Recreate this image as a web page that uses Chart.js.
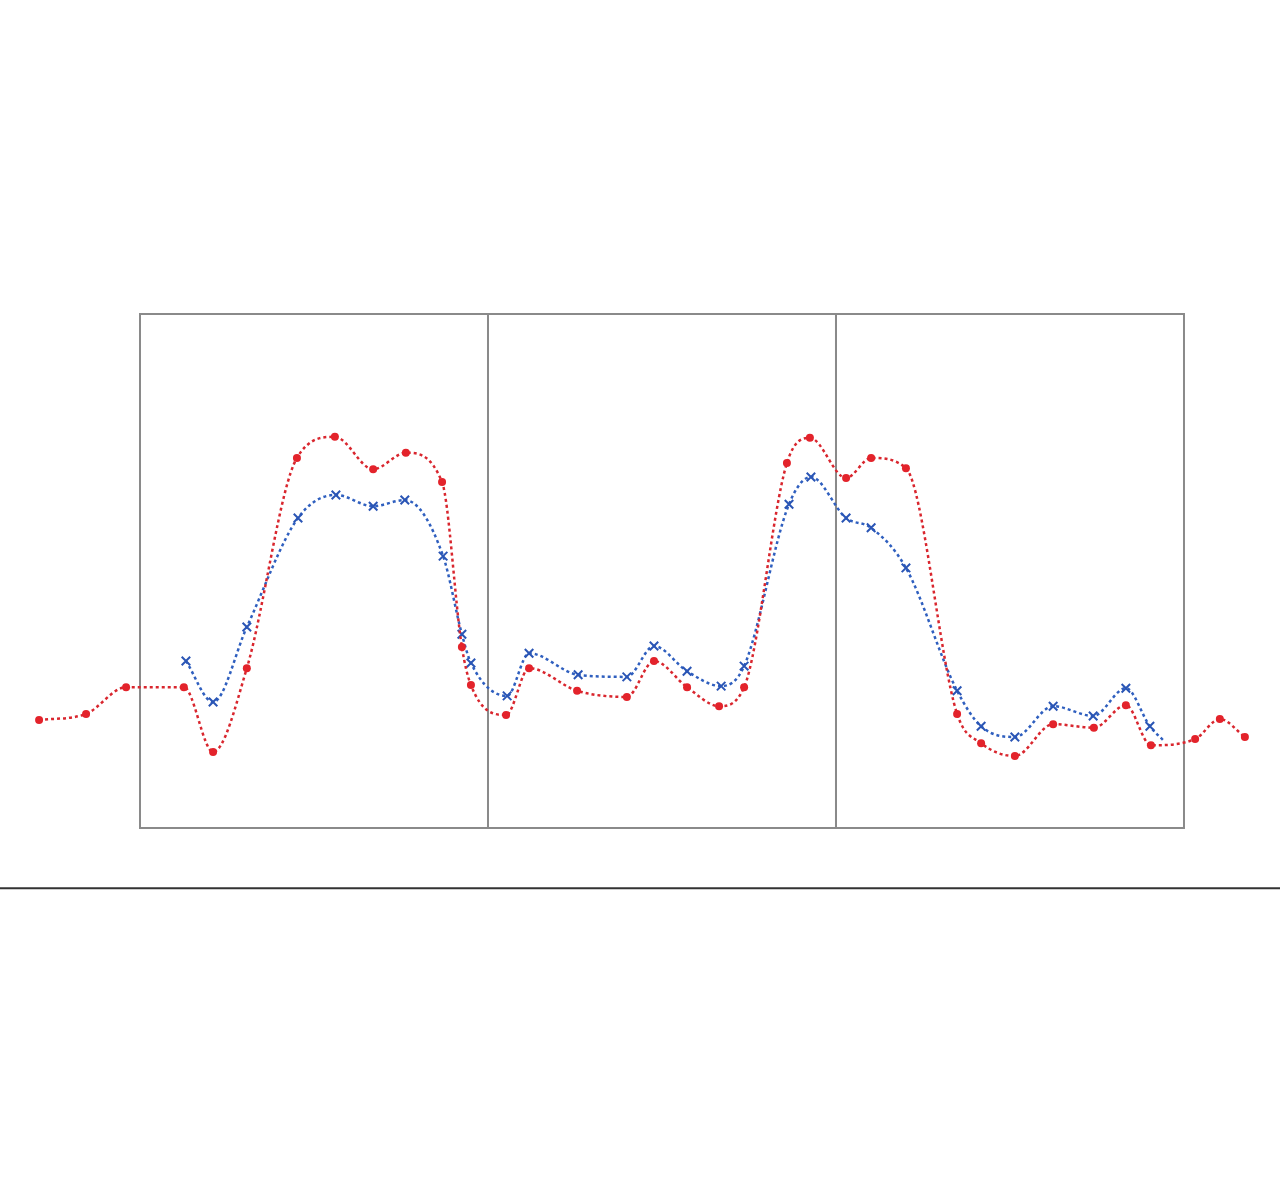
<!DOCTYPE html>
<html lang="en">
<head>
    <meta charset="UTF-8">
    <title>Two dotted series</title>
    <style>
        body { margin: 0; background: #fff; }
    </style>
</head>
<body>
    <canvas id="myChart" width="1280" height="1190"></canvas>
    <script src="https://cdn.jsdelivr.net/npm/chart.js@4.4.0/dist/chart.umd.min.js"></script>
    <script>

        // x in panel units (each box is 1 wide), y in percent of box height
        let redX = [-0.290, -0.155, -0.040, 0.126, 0.210, 0.307, 0.451, 0.560, 0.670, 0.764, 0.868, 0.925, 0.951,
                    1.052, 1.118, 1.256, 1.399, 1.477, 1.572, 1.664, 1.736, 1.859, 1.925,
                    2.029, 2.101, 2.201, 2.348, 2.417, 2.514, 2.624, 2.741, 2.833, 2.905, 3.032, 3.103, 3.175];
        let redY = [21.0, 22.2, 27.4, 27.4, 14.8, 31.1, 72.0, 76.1, 69.8, 73.0, 67.3, 35.2, 27.8,
                    22.0, 31.1, 26.7, 25.5, 32.5, 27.4, 23.7, 27.4, 71.0, 75.9,
                    68.1, 72.0, 70.0, 22.2, 16.5, 14.0, 20.2, 19.5, 23.9, 16.1, 17.3, 21.2, 17.7];

        let blueX = [0.132, 0.210, 0.307, 0.454, 0.563, 0.670, 0.761, 0.871, 0.925, 0.951,
                     1.055, 1.118, 1.259, 1.399, 1.477, 1.572, 1.670, 1.736, 1.865, 1.928,
                     2.029, 2.101, 2.201, 2.348, 2.417, 2.514, 2.624, 2.739, 2.833, 2.902, 2.940];
        let blueY = [32.5, 24.5, 39.1, 60.3, 64.8, 62.6, 63.8, 52.9, 37.7, 32.1,
                     25.7, 34.0, 29.8, 29.4, 35.4, 30.5, 27.6, 31.5, 63.0, 68.3,
                     60.3, 58.4, 50.6, 26.7, 19.8, 17.7, 23.7, 21.8, 27.2, 19.8, 17.1];

        let panels = [0, 1, 2];
        let baseLineY = -11.7;

        var toPoints = (xs, ys) => xs.map((x, i) => ({ x: x, y: ys[i] }));

        // blue line runs on past its last marker
        var blueRadius = blueX.map((x, i) => i === blueX.length - 1 ? 0 : 6);

        const boxPlugin = {
            id: 'boxes',
            beforeDatasetsDraw(chart) {
                const c = chart.ctx;
                const xs = chart.scales.x, ys = chart.scales.y;
                c.save();
                c.strokeStyle = '#8a8a8a';
                c.lineWidth = 2;
                panels.forEach(p => {
                    let x0 = xs.getPixelForValue(p), x1 = xs.getPixelForValue(p + 1);
                    let y0 = ys.getPixelForValue(100), y1 = ys.getPixelForValue(0);
                    c.strokeRect(x0, y0, x1 - x0, y1 - y0);
                });
                c.strokeStyle = '#333';
                c.beginPath();
                let by = ys.getPixelForValue(baseLineY);
                c.moveTo(0, by);
                c.lineTo(chart.width, by);
                c.stroke();
                c.restore();
            }
        };

        const ctx = document.getElementById('myChart').getContext('2d');
        const myChart = new Chart(ctx,
        {
            type: 'line',
            data:
            {
                datasets:
                [{
                    label: 'red',
                    data: toPoints(redX, redY),
                    borderColor: '#d9262e',
                    backgroundColor: '#e3232b',
                    borderWidth: 2.5,
                    borderDash: [3, 3],
                    pointStyle: 'circle',
                    pointRadius: 4,
                    pointBorderWidth: 0,
                    cubicInterpolationMode: 'monotone',
                    clip: false
                },
                {
                    label: 'blue',
                    data: toPoints(blueX, blueY),
                    borderColor: '#2f5fbf',
                    backgroundColor: '#2f5fbf',
                    borderWidth: 2.5,
                    borderDash: [3, 3],
                    pointStyle: 'crossRot',
                    pointRadius: blueRadius,
                    pointBorderWidth: 2,
                    pointBorderColor: '#2a55b5',
                    cubicInterpolationMode: 'monotone',
                    clip: false
                }]
            },
            options:
            {
                responsive: false,
                animation: false,
                layout: { padding: 0, autoPadding: false },
                plugins: { legend: { display: false }, tooltip: { enabled: false } },
                scales:
                {
                    x: { type: 'linear', min: -0.4023, max: 3.2759, display: false },
                    y: { min: -70.43, max: 161.09, display: false }
                }
            },
            plugins: [boxPlugin]
        });

    </script>
</body>
</html>
